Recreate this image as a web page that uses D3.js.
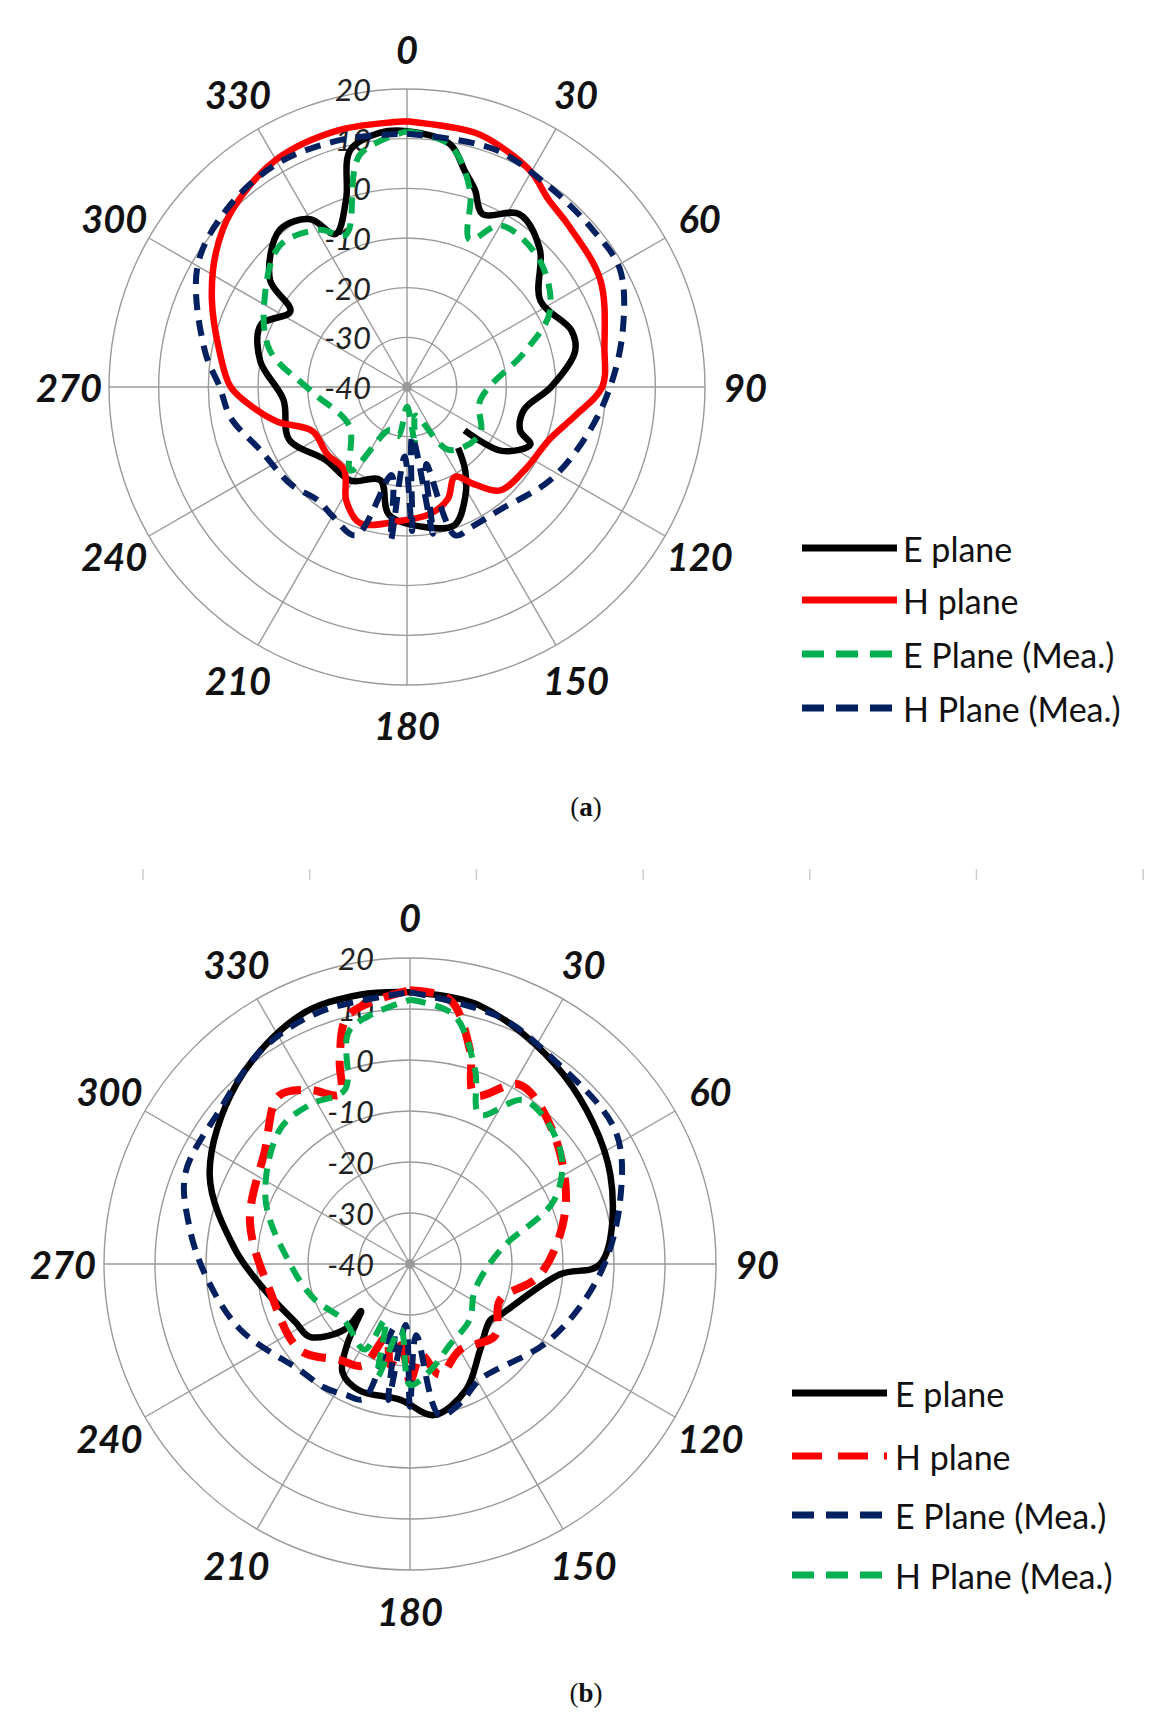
<!DOCTYPE html>
<html><head><meta charset="utf-8">
<script src="https://cdn.jsdelivr.net/npm/d3@7"></script>
<style>body{margin:0;background:#fff}svg{display:block}</style>
</head><body>
<svg id="c" width="1171" height="1728"></svg>
<script>
const angleTicks=[0,30,60,90,120,150,180,210,240,270,300,330];
const dbTicks=[-40,-30,-20,-10,0,10,20];

// ---- Chart (a) ----
const aEang=[140,145,152,161,173,188,196,211,228,246,264,280,293,303,308,321,330,335,342,346.5,354,360,370,375,379,383.6,393,404,417,431,438,450,461,471,475,484,487];
const aEval=[-24,-19.6,-15,-10.6,-11.6,-14,-20.5,-18,-18,-14,-15,-10,-8,-12,-5,0.7,-1,-6,-0.3,9,11.5,11.5,9.7,5,2,-2,1.5,-1.5,-8,-5,-5.4,-11,-16,-15.6,-12.6,-17,-25.5];
const aHang=[0,15,21,30,37,45,61,79,90,100,110,125,138,145,152,160,170,183,199,208,217,230,245,255,262,270,281,294,305,315,330,345,360];
const aHval=[13.5,13,12,10,7.3,6,4.5,0.5,-0.7,-5.8,-9.4,-11,-12,-16,-19.5,-16,-14,-13,-11,-14,-19,-19,-19,-13,-9,-4.5,-1.5,3,7,10,12.8,13.5,13.5];
const aEMang=[0,10,17.7,23,30,46,62,73,100,123,146,158,164,172,180,190,202,214,236,268,285,301,318,331,338,348.5,360];
const aEMval=[11.5,9.5,1.7,-7.8,-2.4,-3,-7.4,-15,-25,-22.5,-24.7,-33,-34,-29,-36,-30,-30.7,-19.7,-26,-20.5,-11.4,-6.5,-1.7,-3.8,-7,7.7,11.5];
const aHMang=[0,20,35,50,61,75,90,105,123,143,155,162,166,170,174,178,182,186,190,199,210,218,230,247,260,270,280,300,315,330,345,360];
const aHMval=[11,11,9.5,9,9,5,0.9,-2.5,-5.6,-9,-9,-8.6,-24,-10,-30,-11,-26,-9,-22,-8.4,-10,-11,-9.5,-7.8,-4,-2.3,1.3,8.7,11,12,11.5,11];

// ---- Chart (b) ----
const bEang=[0,15,39,66,90,94,120,125,141,156,171,184,202,212,218,222,226,225,234,243,260,275,294,316,336,349.5,360];
const bEval=[13.3,12.5,7.8,3,-2.7,-10.6,-19.8,-20.8,-18.2,-13,-10,-13.3,-13.3,-15,-20,-24,-26.7,-21.8,-15.7,-14.8,-11,-5.5,3,9,13.3,13.7,13.3];
const bHang=[0,8.6,15.7,21,31.5,48,71,95,112,130,150,165,173,180,186,191,198,205,216,232,259.5,285,308,322,330,337.5,341,346,360];
const bHval=[13.7,12.4,3.5,-4.5,1.2,-2,-7.8,-14.5,-21,-18.2,-20.5,-17.5,-22,-17,-24,-19.8,-25,-18,-16.7,-12.6,-12,-7.5,-3.9,1.8,-0.6,-4,2.3,10.2,13.7];
const bEMang=[0,20,35,57,73,93,118.5,149,160,169,175,180,184,189,194,199,206,215,226,249,267,280,292,309,325,340,360];
const bEMval=[13.3,11.5,9,8,3.1,-2.7,-8.8,-13.5,-11,-9.8,-26,-12,-28,-13,-27,-12,-11.4,-10.5,-10,-4.3,0.2,4,7.5,8,11,12.5,13.3];
const bHMang=[0,10,18.5,25,35,52.8,66,81,112,133,154,169,180,188,196,204,208,229,250,270,294,316,328,339.5,345.6,360];
const bHMval=[11.8,9.6,0.2,-7.7,-0.8,-3,-9,-22,-26.3,-24,-22.3,-18.8,-16.3,-27,-17,-28,-21,-23,-20,-16.5,-9,-3.3,-3.1,-3.5,7.4,11.8];

const svg=d3.select("#c");
const toR=Math.PI/180;

function chart(cx,cy,R,labR,series,legend,lx0,lx1,ltx,lys,cap,capY){
  const g=svg.append("g").attr("transform",`translate(${cx},${cy})`);
  const r=d3.scaleLinear().domain([-40,20]).range([0,R]);
  g.selectAll("circle.ring").data(dbTicks.slice(1)).join("circle")
    .attr("r",d=>r(d)).attr("fill","none").attr("stroke","#9a9a9a").attr("stroke-width",1.4);
  g.selectAll("line.sp").data(angleTicks).join("line")
    .attr("x1",0).attr("y1",0)
    .attr("x2",d=>R*Math.sin(d*toR)).attr("y2",d=>-R*Math.cos(d*toR))
    .attr("stroke","#9a9a9a").attr("stroke-width",1.4);
  g.append("circle").attr("r",5).attr("fill","#9a9a9a");
  g.selectAll("text.al").data(angleTicks).join("text")
    .attr("x",d=>labR*Math.sin(d*toR)).attr("y",d=>-labR*Math.cos(d*toR))
    .attr("text-anchor","middle").attr("dominant-baseline","central")
    .attr("font-family","Lato, 'Open Sans', sans-serif").attr("font-style","italic").attr("font-weight","bold")
    .attr("font-size",38).attr("fill","#111").text(d=>d);
  g.selectAll("text.dl").data(dbTicks).join("text")
    .attr("x",-36).attr("y",d=>-r(d)).attr("text-anchor","end").attr("dominant-baseline","central")
    .attr("font-family","Lato, 'Open Sans', sans-serif").attr("font-style","italic")
    .attr("font-size",31).attr("fill","#222").text(d=>d);
  const line=d3.lineRadial().curve(d3.curveCatmullRom.alpha(0.5));
  series.forEach(s=>{
    const pts=s.ang.map((a,i)=>[a*toR,r(s.val[i])]);
    g.append("path").attr("d",line(pts)).attr("fill","none").attr("stroke",s.color)
      .attr("stroke-width",s.w).attr("stroke-dasharray",s.dash||null)
      .attr("stroke-linejoin","round");
  });
  legend.forEach((s,i)=>{
    svg.append("line").attr("x1",lx0).attr("x2",lx1).attr("y1",lys[i]).attr("y2",lys[i])
      .attr("stroke",s.color).attr("stroke-width",7).attr("stroke-dasharray",s.ldash||null);
    svg.append("text").attr("x",ltx).attr("y",lys[i]).attr("dominant-baseline","central")
      .attr("font-family","Lato, 'Open Sans', sans-serif").attr("font-size",34).attr("fill","#111").text(s.name);
  });
  svg.append("text").attr("x",586).attr("y",capY).attr("text-anchor","middle").attr("dominant-baseline","central")
    .attr("font-family","'Liberation Serif', serif").attr("font-size",27).attr("fill","#111")
    .html(`(<tspan font-weight="bold">${cap}</tspan>)`);
}

const A=[
 {name:"E plane",ang:aEang,val:aEval,color:"#000",w:6.5},
 {name:"H plane",ang:aHang,val:aHval,color:"#ff0000",w:6.5},
 {name:"E Plane (Mea.)",ang:aEMang,val:aEMval,color:"#00b050",w:6,dash:"16,10",ldash:"22,12"},
 {name:"H Plane (Mea.)",ang:aHMang,val:aHMval,color:"#002060",w:6,dash:"16,10",ldash:"22,12"}
];
chart(407,387,298,338,A,A,802,897,903,[548,600,654,708],"a",807);

const B=[
 {name:"E plane",ang:bEang,val:bEval,color:"#000",w:6.5},
 {name:"H plane",ang:bHang,val:bHval,color:"#ff0000",w:8,dash:"24,13",ldash:"30,16"},
 {name:"E Plane (Mea.)",ang:bEMang,val:bEMval,color:"#002060",w:6,dash:"16,10",ldash:"22,12"},
 {name:"H Plane (Mea.)",ang:bHMang,val:bHMval,color:"#00b050",w:6,dash:"16,10",ldash:"22,12"}
];
chart(410,1264,306,347,B,B,792,887,895,[1393,1456,1515,1575],"b",1693);

svg.selectAll("line.tk").data(d3.range(7)).join("line")
  .attr("x1",d=>143+d*166.7).attr("x2",d=>143+d*166.7).attr("y1",869).attr("y2",880)
  .attr("stroke","#ccc").attr("stroke-width",1.5);
</script>
</body></html>
